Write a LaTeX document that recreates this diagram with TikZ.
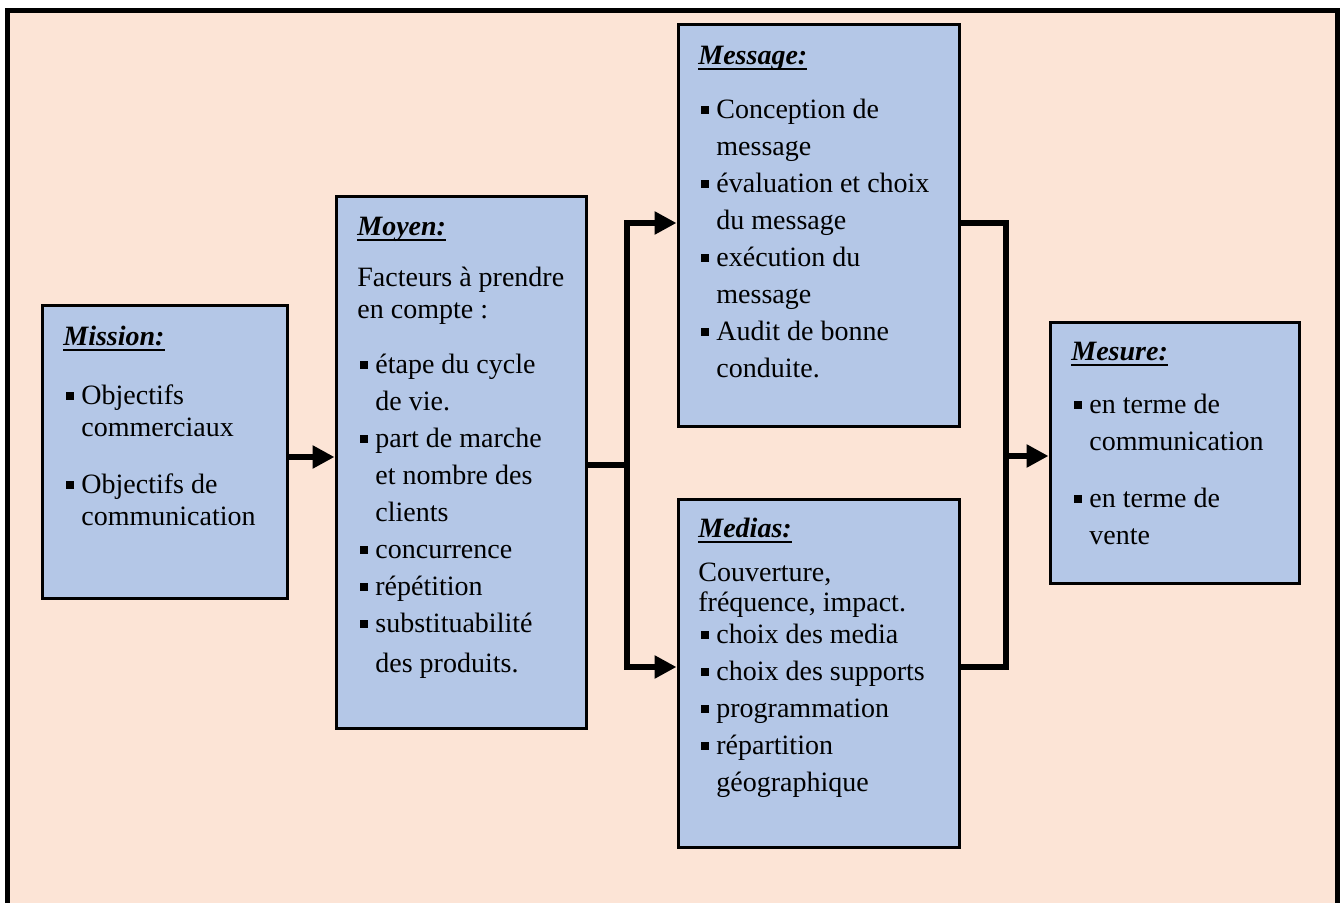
\documentclass[tikz,border=0pt]{standalone}
\usepackage{fontspec}
\setmainfont{Liberation Serif}
\usetikzlibrary{arrows.meta}
\definecolor{peach}{HTML}{FCE4D6}
\definecolor{boxblue}{HTML}{B4C7E7}
\newcommand{\bul}{\hspace*{1.2pt}\rule[2.5pt]{3.9pt}{3.9pt}\hspace*{3.9pt}}
\newcommand{\ind}{\hspace*{9pt}}
\newcommand{\ttl}[1]{\setbox0\hbox{\bfseries\itshape #1}\rlap{\rule[-2.8pt]{\wd0}{1.4pt}}\box0}
\begin{document}
\begin{tikzpicture}[x=0.5pt,y=-0.5pt,
  box/.style={draw, fill=boxblue, line width=1.5pt, inner sep=0pt},
  txt/.style={anchor=north west, align=left, inner sep=0pt, font=\fontsize{14pt}{16pt}\selectfont},
  conn/.style={line width=3pt},
  tip/.tip={Triangle[length=11pt,width=11pt]},
  arr/.style={conn, -tip}]
\useasboundingbox (0,0) rectangle (1342,903);
\fill[white] (0,0) rectangle (1342,903);
\fill[peach] (7.5,11) rectangle (1337.5,910);
\draw[line width=2.5pt] (7.5,910) -- (7.5,11) -- (1337.5,11) -- (1337.5,910);

\node[box, minimum width=122.5pt, minimum height=146pt] (mission) at (164.5,452) {};
\node[box, minimum width=125pt, minimum height=265.5pt] (moyen) at (461,462.5) {};
\node[box, minimum width=140.5pt, minimum height=200.5pt] (message) at (818.5,225.5) {};
\node[box, minimum width=140.5pt, minimum height=174pt] (medias) at (818.5,673) {};
\node[box, minimum width=124.5pt, minimum height=130pt] (mesure) at (1174.5,453) {};

\node[txt] (missiont) at (63,326) {\ttl{Mission:}\\[13.5pt]
  \bul Objectifs\\ \ind commerciaux\\[12.5pt]
  \bul Objectifs de\\ \ind communication};
\node[txt] (moyent) at (357,217) {\ttl{Moyen:}\\[9.5pt]
  Facteurs à prendre\\ en compte :\\[11.5pt]
  \bul étape du cycle\\[2.5pt] \ind de vie.\\[2.5pt]
  \bul part de marche\\[2.5pt] \ind et nombre des\\[2.5pt] \ind clients\\[2.5pt]
  \bul concurrence\\[2.5pt] \bul répétition\\[2.5pt]
  \bul substituabilité\\[4pt] \ind des produits.};
\node[txt] (messaget) at (698,46) {\ttl{Message:}\\[11pt]
  \bul Conception de\\[2.5pt] \ind message\\[2.5pt]
  \bul évaluation et choix\\[2.5pt] \ind du message\\[2.5pt]
  \bul exécution du\\[2.5pt] \ind message\\[2.5pt]
  \bul Audit de bonne\\[2.5pt] \ind conduite.};
\node[txt] (mediast) at (698,518) {\ttl{Medias:}\\[6pt]
  Couverture,\\[-1pt] fréquence, impact.\\
  \bul choix des media\\[2.5pt] \bul choix des supports\\[2.5pt]
  \bul programmation\\[2.5pt] \bul répartition\\[2.5pt] \ind géographique};
\node[txt] (mesuret) at (1071,342) {\ttl{Mesure:}\\[10.5pt]
  \bul en terme de\\[2.5pt] \ind communication\\[12.5pt]
  \bul en terme de\\[2.5pt] \ind vente};

\coordinate (a1) at (0,457);
\draw[arr] (mission.east |- a1) -- (moyen.west |- a1);
\coordinate (j1) at (627,465);
\coordinate (jt) at (627,223);
\coordinate (jb) at (627,667);
\draw[conn] (moyen.east |- j1) -- (j1);
\draw[conn, tip-tip] (message.west |- jt) -- (jt) -- (jb) -- (medias.west |- jb);
\coordinate (k1) at (1006,223);
\coordinate (k2) at (1006,667);
\coordinate (k3) at (1006,456);
\draw[conn] (message.east |- k1) -- (k1) -- (k2) -- (medias.east |- k2);
\draw[arr] (k3) -- (mesure.west |- k3);
\end{tikzpicture}
\end{document}
